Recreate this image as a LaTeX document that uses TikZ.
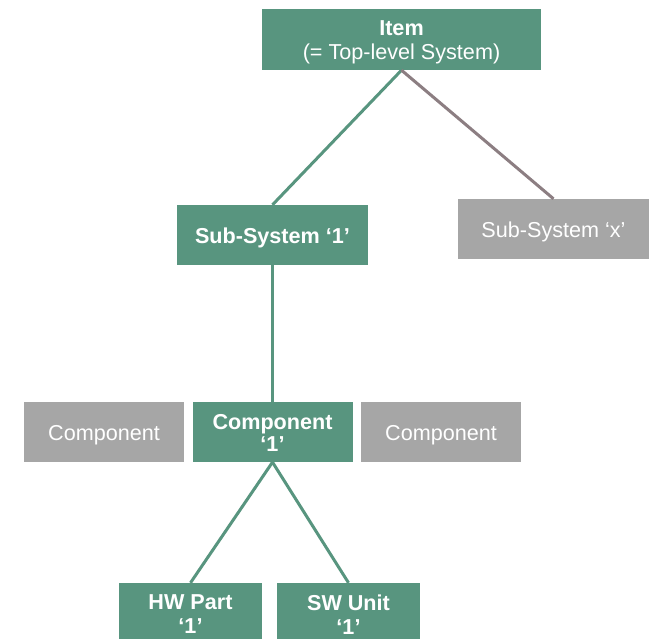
\documentclass[tikz,border=0pt]{standalone}
\usepackage{fontspec}
\setmainfont{Liberation Sans}
\definecolor{boxgreen}{HTML}{58957F}
\definecolor{boxgray}{HTML}{A6A6A6}
\definecolor{linegray}{HTML}{8C7E82}
\begin{document}
\begin{tikzpicture}[x=1pt,y=-1pt,
  greenbox/.style={inner sep=0pt, fill=boxgreen},
  graybox/.style={inner sep=0pt, fill=boxgray},
  lbl/.style={inner sep=0pt, align=center, text=white,
    font=\fontsize{21.6}{24}\selectfont},
  greenline/.style={draw=boxgreen, line width=3pt},
  grayline/.style={draw=linegray, line width=3pt}]
\clip (0,0) rectangle (649,639);
\fill[white] (0,0) rectangle (649,639);
\node[greenbox, minimum width=279pt, minimum height=61pt] (item) at (401.5,39.5) {};
\node[greenbox, minimum width=191pt, minimum height=60pt] (ss1) at (272.5,235) {};
\node[graybox, minimum width=191pt, minimum height=60pt] (ssx) at (553.5,229) {};
\node[graybox, minimum width=160pt, minimum height=60pt] (compL) at (104,432) {};
\node[greenbox, minimum width=160pt, minimum height=60pt] (comp1) at (272.5,432) {};
\node[graybox, minimum width=160pt, minimum height=60pt] (compR) at (441,432) {};
\node[greenbox, minimum width=143pt, minimum height=60pt] (hw) at (190.5,613) {};
\node[greenbox, minimum width=143pt, minimum height=60pt] (sw) at (348.5,613) {};
\node[lbl] (itemT) at ([yshift=-2.5pt]item.center) {{\bfseries Item}\\(= Top-level System)};
\node[lbl] (ss1T) at ([yshift=-3pt]ss1.center) {\bfseries Sub-System ‘1’};
\node[lbl] (ssxT) at ([yshift=-3pt]ssx.center) {Sub-System ‘x’};
\node[lbl] (compLT) at ([yshift=-3pt]compL.center) {Component};
\node[lbl, font=\fontsize{21.6}{22.5}\selectfont] (comp1T) at ([yshift=-1pt]comp1.center) {\bfseries Component\\\bfseries ‘1’};
\node[lbl] (compRT) at ([yshift=-3pt]compR.center) {Component};
\node[lbl] (hwT) at ([yshift=-1.5pt]hw.center) {\bfseries HW Part\\\bfseries ‘1’};
\node[lbl] (swT) at ([yshift=-1.5pt]sw.center) {\bfseries SW Unit\\\bfseries ‘1’};
\draw[greenline] (item.south) -- (ss1.north);
\draw[grayline] (item.south) -- (ssx.north);
\draw[greenline] (ss1.south) -- (comp1.north);
\draw[greenline] (comp1.south) -- (hw.north);
\draw[greenline] (comp1.south) -- (sw.north);
\end{tikzpicture}
\end{document}
